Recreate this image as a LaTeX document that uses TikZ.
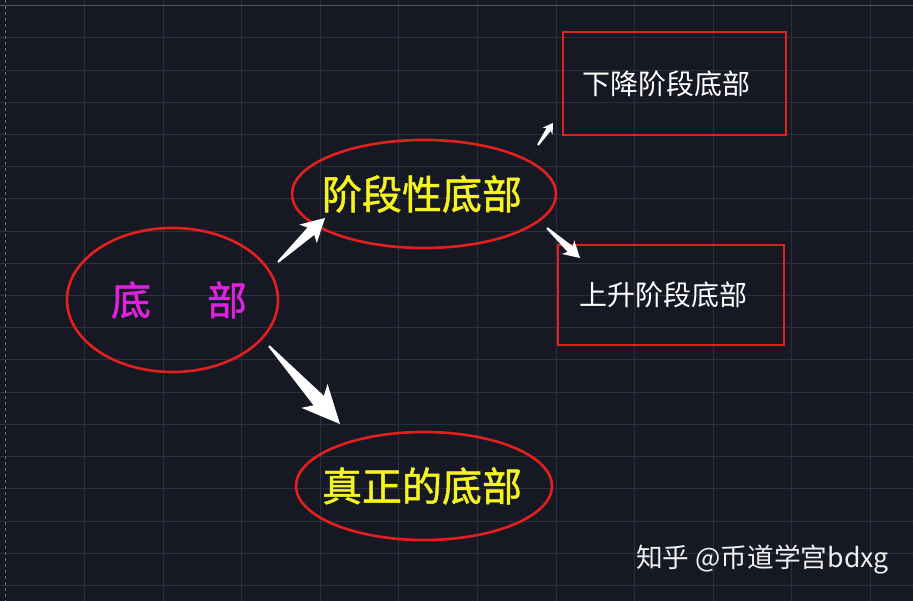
\documentclass[tikz,border=0pt]{standalone}
\usepackage{fontspec}
\newfontfamily\cjk{Noto Sans CJK SC}
\newfontfamily\cjkbold[FakeBold=1.2]{Noto Sans CJK SC}
\usetikzlibrary{shapes.geometric,calc}

\definecolor{bgnavy}{HTML}{161823}
\definecolor{gridgrey}{HTML}{2B2F3F}
\definecolor{ringred}{HTML}{E3201E}
\definecolor{stageyellow}{HTML}{F4F421}
\definecolor{basemagenta}{HTML}{E022E0}

\tikzset{
  ring/.style={ellipse, draw=ringred, line width=2.6pt, inner sep=0pt,
    font=\cjkbold\fontsize{40}{48}\selectfont},
  stagebox/.style={rectangle, draw=ringred, line width=2.4pt, text=white,
    font=\cjk\fontsize{28}{34}\selectfont, inner ysep=0pt, align=left},
  gridline/.style={draw=gridgrey, line width=0.8pt},
}

% tapered white arrow: from, to, neck half width, head half width
\newcommand{\fatarrow}[4]{%
  \fill[white] ($(#1)!0!(#2)!1pt!90:(#2)$)
    -- ($(#1)!0.7!(#2)!#3!90:(#2)$)
    -- ($(#1)!0.64!(#2)!#4!90:(#2)$)
    -- (#2)
    -- ($(#1)!0.64!(#2)!#4!-90:(#2)$)
    -- ($(#1)!0.7!(#2)!#3!-90:(#2)$)
    -- ($(#1)!0!(#2)!1pt!-90:(#2)$) -- cycle;}

\begin{document}
\begin{tikzpicture}[x=1pt,y=-1pt]

\fill[bgnavy] (0,0) rectangle (913,601);
\useasboundingbox (0,0) rectangle (913,601);

% grid
\foreach \i in {1,...,11}
  \draw[gridline] (5.8+78.6*\i,0) -- (5.8+78.6*\i,601);
\foreach \j in {1,...,18}
  \draw[gridline] (0,5.7+32.2*\j) -- (913,5.7+32.2*\j);
\draw[gridline, dashed, draw=gridgrey!70!white] (5.8,0) -- (5.8,601);
\draw[gridline, draw=gridgrey!80!white] (0,5.7) -- (913,5.7);

% ellipses
\node [ring, minimum width=211pt, minimum height=144pt, text=basemagenta] (base) at (172.5,300)
  {\makebox[0pt]{\hspace{13pt}底\hspace{1.4em}部}};
\node [ring, minimum width=264pt, minimum height=108pt, text=stageyellow] (stage) at (424,194)
  {\makebox[0pt]{\hspace{-4pt}阶段性底部}};
\node [ring, minimum width=256pt, minimum height=108pt, text=stageyellow] (real) at (424,486)
  {\makebox[0pt]{\hspace{-4pt}真正的底部}};

% boxes
\node [stagebox, text width=185pt, inner xsep=19pt, minimum height=103pt] (down) at (674.5,83.5) {下降阶段底部};
\node [stagebox, text width=184pt, inner xsep=21pt, minimum height=100pt] (up) at (671,295) {上升阶段底部};

% arrows
\coordinate (a1s) at (278,262);
\coordinate (a1e) at (325,218);
\coordinate (a2s) at (269,346);
\coordinate (a2e) at (340,424);
\coordinate (a3s) at (538,145);
\coordinate (a3e) at (553,123);
\coordinate (a4s) at (547,228);
\coordinate (a4e) at (580,258);
\fatarrow{a1s}{a1e}{5pt}{12.7pt}
\fatarrow{a2s}{a2e}{7pt}{17.7pt}
\fatarrow{a3s}{a3e}{2.5pt}{6pt}
\fatarrow{a4s}{a4e}{3.8pt}{9.2pt}

% watermark
\node [anchor=west, inner sep=0pt, text=white!94!black,
  font=\cjk\fontsize{26.7}{30}\selectfont] (mark) at (636,560) {知乎 @币道学宫bdxg};

\end{tikzpicture}
\end{document}
